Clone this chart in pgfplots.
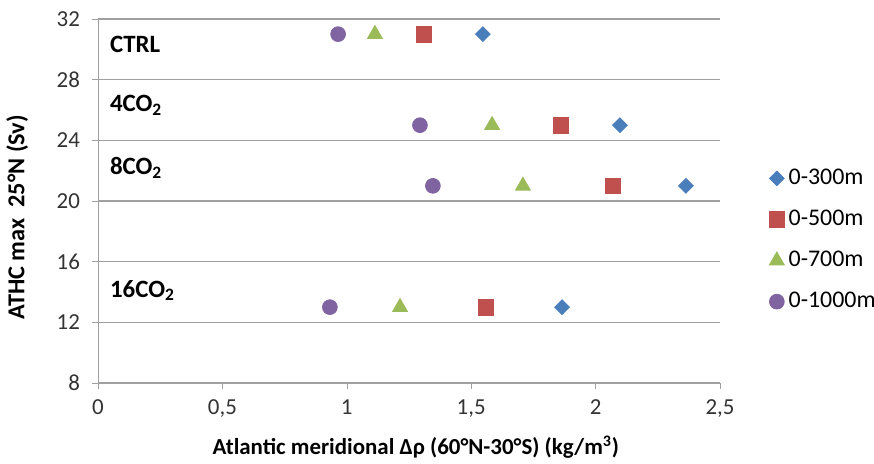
\documentclass[border=0pt]{standalone}
\usepackage{pgfplots}
\pgfplotsset{compat=1.18}
\usepackage{fontspec}
\setmainfont{Carlito}
\definecolor{cblue}{HTML}{4A7EBB}
\definecolor{cred}{HTML}{C0504D}
\definecolor{cgreen}{HTML}{9BBB59}
\definecolor{cpurple}{HTML}{8064A2}
\definecolor{gridc}{HTML}{A0A0A0}
\begin{document}
\begin{tikzpicture}
\useasboundingbox (-49bp,-40.5bp) rectangle (388bp,191.5bp);
\begin{axis}[
  at={(0,0)}, anchor=south west,
  scale only axis, width=311bp, height=182bp,
  xmin=0, xmax=2.5, ymin=8, ymax=32,
  xtick={0,0.5,...,2.5}, ytick={8,12,...,32},
  axis x line=bottom, axis y line=left,
  axis line style={gridc, -},
  x axis line style={-}, y axis line style={-},
  ymajorgrids, major grid style={gridc, line width=0.6pt},
  tick style={gridc}, major tick length=3bp,
  xtick align=outside, ytick align=outside,
  /pgf/number format/use comma,
  /pgf/number format/assume math mode=true,
  ticklabel style={font=\fontsize{11.5}{13}\selectfont, text=black!80},
  xticklabel style={yshift=-2bp},
  yticklabel style={xshift=-2.5bp},
  xlabel={\textbf{Atlantic meridional Δρ (60°N-30°S) (kg/m\textsuperscript{3})}},
  ylabel={\textbf{ATHC max\ \ 25°N (Sv)}},
  xlabel style={font=\fontsize{11.5}{13}\selectfont, at={(axis description cs:0.511,-0.125)}, anchor=north},
  ylabel style={font=\fontsize{12.2}{14}\selectfont, at={(axis description cs:-0.101,0.455)}, anchor=south},
  legend style={at={(axis description cs:1.075,0.605)}, anchor=north west, draw=none, fill=none,
    font=\fontsize{12}{14}\selectfont, row sep=7.3bp, inner sep=1bp},
  legend cell align=left,
  legend image code/.code={\draw[#1] (0.3em,0) -- plot coordinates {(0.3em,0)};},
]
\addplot[only marks, mark=square*, mark size=2.6bp, color=cblue, mark options={rotate=45}] coordinates {
(1.547,31) (2.098,25) (2.363,21) (1.865,13)};
\addlegendentry{0-300m}
\addplot[only marks, mark=square*, mark size=3.9bp, color=cred] coordinates {
(1.31,31) (1.861,25) (2.07,21) (1.559,13)};
\addlegendentry{0-500m}
\addplot[only marks, mark=triangle*, mark size=4.3bp, color=cgreen] coordinates {
(1.113,31) (1.584,25) (1.708,21) (1.214,13)};
\addlegendentry{0-700m}
\addplot[only marks, mark=*, mark size=3.7bp, color=cpurple] coordinates {
(0.965,31) (1.294,25) (1.346,21) (0.932,13)};
\addlegendentry{0-1000m}
\node[anchor=west, font=\fontsize{12.5}{14}\bfseries] at (axis cs:0.02,30.3) {CTRL};
\node[anchor=west, font=\fontsize{12.5}{14}\bfseries] at (axis cs:0.02,26.3) {4CO\textsubscript{2}};
\node[anchor=west, font=\fontsize{12.5}{14}\bfseries] at (axis cs:0.02,22.2) {8CO\textsubscript{2}};
\node[anchor=west, font=\fontsize{12.5}{14}\bfseries] at (axis cs:0.02,14.1) {16CO\textsubscript{2}};
\end{axis}
\end{tikzpicture}
\end{document}
